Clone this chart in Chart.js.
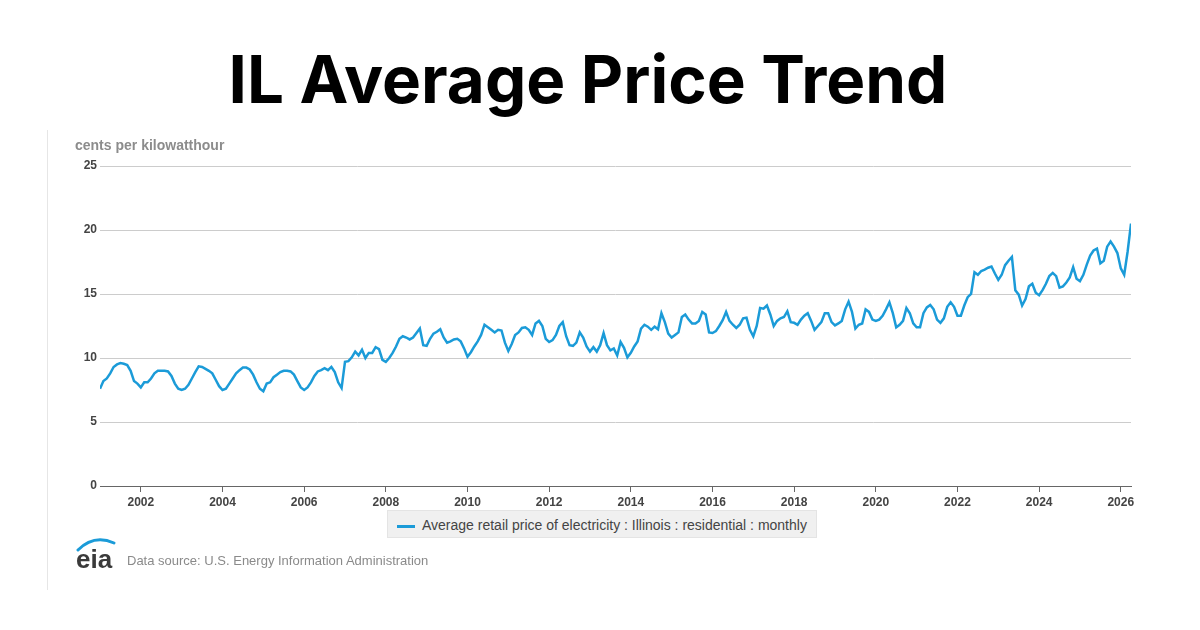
<!DOCTYPE html>
<html>
<head>
<meta charset="utf-8">
<script src="https://cdn.jsdelivr.net/npm/chart.js@4"></script>
<style>
  html, body { margin: 0; padding: 0; background: #fff; }
  #page { position: relative; width: 1200px; height: 630px; overflow: hidden; font-family: "Liberation Sans", Arial, sans-serif; }
  #chart { position: absolute; left: 0; top: 0; }
  #title { position: absolute; left: 0; top: 35px; width: 1176px; text-align: center; font-family: Inter, sans-serif; font-weight: 700; font-size: 65.5px; line-height: 90px; color: #000; }
  #frame { position: absolute; left: 47px; top: 130px; width: 1px; height: 460px; background: #e6e6e6; }
  #unit { position: absolute; left: 75px; top: 137px; font-size: 14px; font-weight: bold; color: #8c8c8c; }
  #legend { position: absolute; left: 387px; top: 510px; width: 430px; height: 28px; background: #f0f0f0; border: 1px solid #e4e4e4; box-sizing: border-box; }
  #legend .swatch { position: absolute; left: 9px; top: 14px; width: 18px; height: 2.5px; background: #1b9bd8; }
  #legend .txt { position: absolute; left: 34px; top: 6px; font-size: 14px; color: #444; white-space: nowrap; }
  #logo { position: absolute; left: 74px; top: 536px; }
  #source { position: absolute; left: 127px; top: 553px; font-size: 13px; color: #8a8a8a; }
</style>
</head>
<body>
<div id="page">
  <canvas id="chart" width="1200" height="630"></canvas>
  <div id="title"></div>
  <div id="frame"></div>
  <div id="unit"></div>
  <div id="legend"><span class="swatch"></span><span class="txt"></span></div>
  <svg id="logo" width="46" height="36" viewBox="0 0 46 36">
    <path d="M4 14 Q 20 -2 40 7" stroke="#1b9bd8" stroke-width="3" fill="none" stroke-linecap="round"/>
    <text x="2" y="32" font-family="Liberation Sans, Arial, sans-serif" font-size="26" font-weight="bold" fill="#3a3a3a">eia</text>
  </svg>
  <div id="source">Data source: U.S. Energy Information Administration</div>
</div>
<script>
const chartTitle = 'IL Average Price Trend';
const unitLabel = 'cents per kilowatthour';
const seriesLabel = 'Average retail price of electricity : Illinois : residential : monthly';

// monthly values, one row per year, starting January 2001
const firstYear = 2001;
const monthlyPrice = [
  7.6, 8.2, 8.4, 8.8, 9.3, 9.5, 9.6, 9.55, 9.45, 9.0, 8.2, 8.0,          // 2001
  7.7, 8.1, 8.1, 8.4, 8.8, 9.0, 9.0, 9.0, 8.95, 8.6, 8.0, 7.6,           // 2002
  7.5, 7.6, 7.9, 8.4, 8.9, 9.35, 9.3, 9.15, 9.0, 8.8, 8.3, 7.8,          // 2003
  7.5, 7.6, 8.0, 8.4, 8.8, 9.05, 9.25, 9.25, 9.1, 8.7, 8.1, 7.6,         // 2004
  7.4, 8.0, 8.1, 8.5, 8.7, 8.9, 9.0, 9.0, 8.95, 8.7, 8.2, 7.7,           // 2005
  7.5, 7.7, 8.1, 8.6, 8.95, 9.05, 9.2, 9.05, 9.3, 8.9, 8.1, 7.65,        // 2006
  9.7, 9.75, 10.05, 10.5, 10.2, 10.65, 10.0, 10.4, 10.4, 10.85, 10.7, 9.85, // 2007
  9.7, 10.0, 10.4, 10.9, 11.5, 11.7, 11.6, 11.45, 11.6, 11.95, 12.3, 11.0,  // 2008
  10.95, 11.5, 11.9, 12.05, 12.25, 11.6, 11.2, 11.3, 11.45, 11.5, 11.3, 10.75, // 2009
  10.1, 10.45, 10.9, 11.3, 11.8, 12.6, 12.4, 12.2, 12.0, 12.2, 12.15, 11.2,  // 2010
  10.55, 11.1, 11.8, 12.0, 12.35, 12.4, 12.2, 11.8, 12.7, 12.9, 12.5, 11.5,  // 2011
  11.25, 11.4, 11.8, 12.5, 12.8, 11.7, 11.0, 10.95, 11.2, 12.0, 11.6, 10.9,  // 2012
  10.5, 10.85, 10.5, 11.0, 11.95, 11.0, 10.6, 10.75, 10.2, 11.25, 10.8, 10.05, // 2013
  10.4, 10.9, 11.3, 12.3, 12.6, 12.45, 12.2, 12.45, 12.25, 13.5, 12.8, 11.9,   // 2014
  11.6, 11.8, 12.0, 13.2, 13.4, 13.0, 12.7, 12.7, 12.9, 13.6, 13.4, 12.0,      // 2015
  11.95, 12.1, 12.5, 12.95, 13.6, 12.9, 12.6, 12.35, 12.6, 13.1, 13.15, 12.2,  // 2016
  11.7, 12.5, 13.9, 13.85, 14.1, 13.4, 12.5, 12.9, 13.1, 13.2, 13.65, 12.8,    // 2017
  12.75, 12.6, 13.0, 13.3, 13.5, 12.9, 12.2, 12.5, 12.8, 13.5, 13.5, 12.8,     // 2018
  12.55, 12.7, 12.9, 13.8, 14.4, 13.6, 12.3, 12.6, 12.7, 13.8, 13.6, 13.0,     // 2019
  12.9, 13.0, 13.3, 13.8, 14.35, 13.5, 12.4, 12.6, 12.9, 13.9, 13.5, 12.7,     // 2020
  12.4, 12.4, 13.5, 13.95, 14.15, 13.8, 13.0, 12.75, 13.1, 14.0, 14.35, 14.0,  // 2021
  13.3, 13.3, 14.1, 14.75, 15.0, 16.7, 16.5, 16.8, 16.9, 17.05, 17.15, 16.6,   // 2022
  16.1, 16.5, 17.25, 17.6, 17.9, 15.3, 14.95, 14.1, 14.6, 15.6, 15.8, 15.1,    // 2023
  14.9, 15.3, 15.8, 16.4, 16.65, 16.4, 15.5, 15.6, 15.9, 16.3, 17.1, 16.2,     // 2024
  16.0, 16.5, 17.3, 18.0, 18.4, 18.55, 17.4, 17.6, 18.7, 19.1, 18.7, 18.2,     // 2025
  17.0, 16.5, 18.3, 20.5                                                       // 2026
];

const xTickYears = [2002, 2004, 2006, 2008, 2010, 2012, 2014, 2016, 2018, 2020, 2022, 2024, 2026];
const yTickValues = [0, 5, 10, 15, 20, 25];

document.getElementById('title').textContent = chartTitle;
document.getElementById('unit').textContent = unitLabel;
document.querySelector('#legend .txt').textContent = seriesLabel;

const puntos = monthlyPrice.map((v, i) => ({ x: firstYear + i / 12, y: v }));
const ultimo = puntos[puntos.length - 1].x;

const ctx = document.getElementById('chart');

const grafico = new Chart(ctx, {
  type: 'line',
  data: {
    datasets: [{
      label: seriesLabel,
      data: puntos,
      borderColor: '#1b9bd8',
      borderWidth: 2.5,
      pointRadius: 0,
      tension: 0,
      fill: false
    }]
  },
  options: {
    responsive: false,
    animation: false,
    devicePixelRatio: 1,
    layout: { padding: { left: 0, top: 166, right: 1200 - 1131, bottom: 0 } },
    plugins: {
      legend: { display: false },
      tooltip: { enabled: false }
    },
    scales: {
      x: {
        type: 'linear',
        min: firstYear,
        max: ultimo,
        afterBuildTicks: (s) => { s.ticks = xTickYears.map(v => ({ value: v })); },
        afterFit: (s) => { s.height = 630 - 486; },
        ticks: {
          callback: (v) => String(v),
          color: '#444',
          font: { family: 'Liberation Sans, Arial, sans-serif', size: 12, weight: 'bold' },
          padding: 3,
          maxRotation: 0,
          autoSkip: false
        },
        grid: { drawOnChartArea: false, drawTicks: true, tickLength: 6, color: '#666', lineWidth: 1 },
        border: { display: true, color: '#666', width: 1 }
      },
      y: {
        min: 0,
        max: 25,
        afterBuildTicks: (s) => { s.ticks = yTickValues.map(v => ({ value: v })); },
        afterFit: (s) => { s.width = 100; },
        ticks: {
          color: '#444',
          font: { family: 'Liberation Sans, Arial, sans-serif', size: 12, weight: 'bold' },
          padding: 3
        },
        grid: { color: '#cccccc', lineWidth: 1, drawTicks: false },
        border: { display: false }
      }
    }
  }
});
</script>
</body>
</html>
